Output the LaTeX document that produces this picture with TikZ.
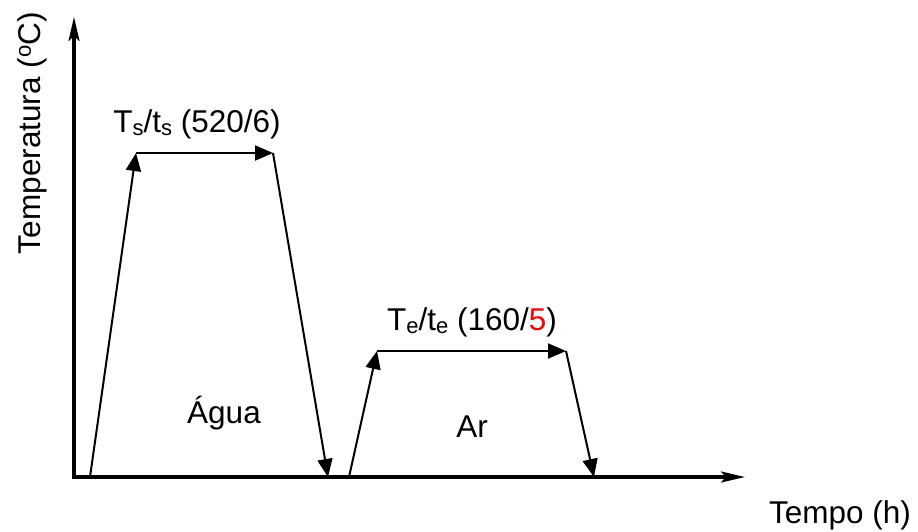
\documentclass[tikz,border=0pt]{standalone}
\usepackage{fontspec}
\setmainfont{Liberation Sans}
\usetikzlibrary{arrows.meta}
\newcommand{\subs}[1]{\raisebox{-0.12em}{\fontsize{22}{22}\selectfont #1}}
\begin{document}
\begin{tikzpicture}[x=1pt,y=-1pt,
  lbl/.style={inner sep=0pt,font=\fontsize{31.5}{37}\selectfont},
  axis/.style={line width=3.2pt,-{Stealth[length=24pt,width=11pt,inset=5pt]}},
  seg/.style={line width=2pt,-{Triangle[length=18pt,width=15pt]}}]
\useasboundingbox (0,0) rectangle (918,531);
% axes
\coordinate (O) at (72.5,477);
\coordinate (ytop) at (74,17);
\coordinate (xend) at (745,477);
\draw[line width=3.2pt] (72.5,477) -- (74,477);
\draw[axis] (74,478.6) -- (ytop);
\draw[axis] (72.5,477) -- (xend);
% first cycle
\coordinate (a0) at (90,477);
\coordinate (a1) at (136,153);
\coordinate (a2) at (273,153);
\coordinate (a3) at (328,477);
\draw[seg] (a0) -- (a1);
\draw[seg] (a1) -- (a2);
\draw[seg] (a2) -- (a3);
% second cycle
\coordinate (b0) at (349,477);
\coordinate (b1) at (377,351);
\coordinate (b2) at (566,351);
\coordinate (b3) at (594,477);
\draw[seg] (b0) -- (b1);
\draw[seg] (b1) -- (b2);
\draw[seg] (b2) -- (b3);
% labels
\node[lbl,anchor=base] (ls) at (197,132) {T\subs{s}/t\subs{s} (520/6)};
\node[lbl,anchor=base] (le) at (472,330) {T\subs{e}/t\subs{e} (160/\textcolor{red}{5})};
\node[lbl,anchor=base] (agua) at (224,423) {Água};
\node[lbl,anchor=base] (ar) at (472,437) {Ar};
\node[lbl,anchor=base] (tempo) at (840,523) {Tempo (h)};
\node[lbl,anchor=base,rotate=90] (temp) at (40,133) {Temperatura (\textsuperscript{o}C)};
\end{tikzpicture}
\end{document}
